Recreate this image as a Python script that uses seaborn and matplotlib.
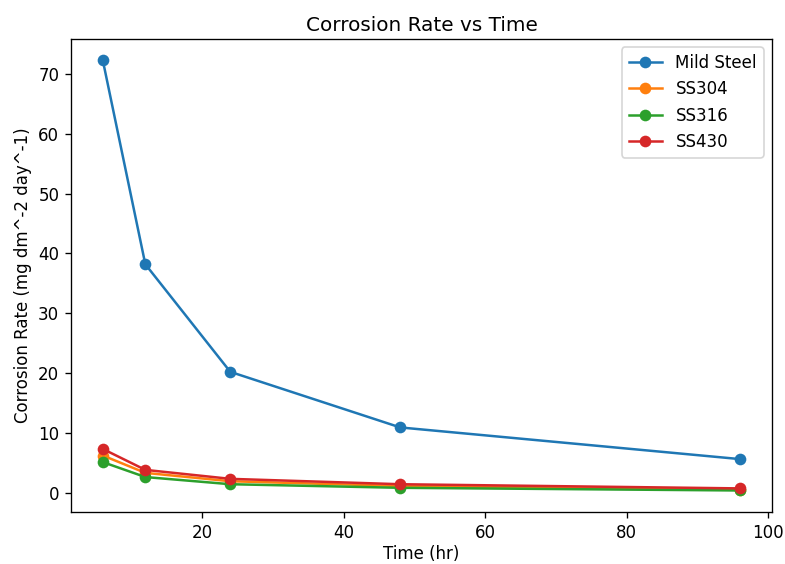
import pandas as pd
import matplotlib
matplotlib.use('Agg')
import matplotlib.pyplot as plt
import seaborn as sns

# data
time_hr = [6, 12, 24, 48, 96]
mild_steel = [72.3, 38.2, 20.2, 10.9, 5.6]
ss304 = [6.2, 3.3, 1.9, 1.1, 0.5]
ss316 = [5.1, 2.6, 1.4, 0.8, 0.35]
ss430 = [7.3, 3.8, 2.3, 1.4, 0.7]

series = {'Mild Steel': mild_steel, 'SS304': ss304, 'SS316': ss316, 'SS430': ss430}
rows = []
for name, vals in series.items():
    for t, v in zip(time_hr, vals):
        rows.append({'Time': t, 'Rate': v, 'Material': name})
df = pd.DataFrame(rows)

fig, ax = plt.subplots(figsize=(785 / 120, 564 / 120), dpi=120)
fig.subplots_adjust(left=0.0904, right=0.9834, top=0.931, bottom=0.0922)

sns.lineplot(data=df, x='Time', y='Rate', hue='Material', marker='o',
             markersize=7, markeredgewidth=0, palette='tab10', ax=ax)

ax.set_title('Corrosion Rate vs Time', pad=5)
ax.set_xlabel('Time (hr)', labelpad=2)
ax.set_ylabel('Corrosion Rate (mg dm^-2 day^-1)')
ax.legend(title=None, loc='upper right')

plt.savefig('out.png', dpi=120)
